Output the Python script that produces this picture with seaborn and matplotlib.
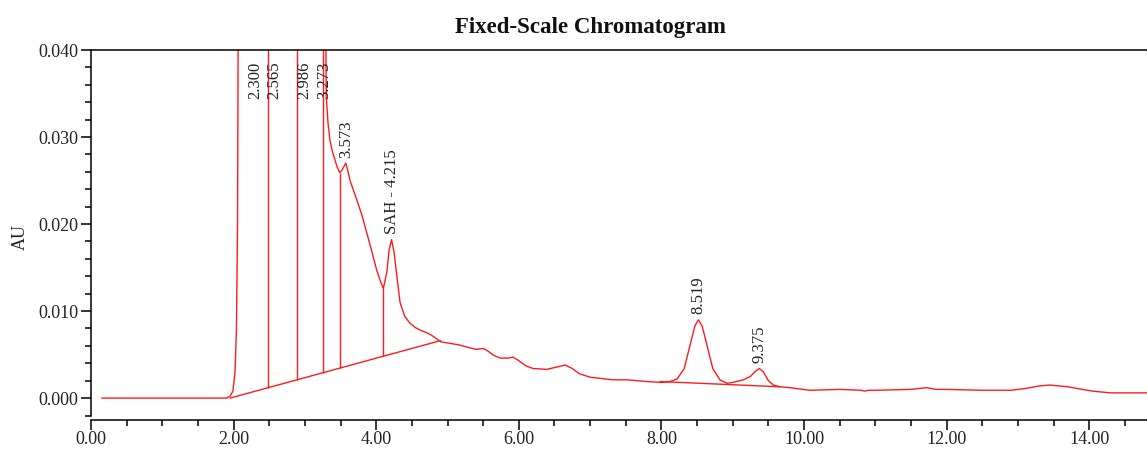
import numpy as np
import pandas as pd
import matplotlib
matplotlib.use("Agg")
import matplotlib.pyplot as plt
from matplotlib.ticker import MultipleLocator, FormatStrFormatter
import seaborn as sns

# ---------------- data ----------------
time_min = [0.15, 1.00, 1.90, 1.95, 1.99, 2.02, 2.04, 2.055, 2.065, 2.10, 2.30, 2.45,
            2.48, 2.565, 2.80, 2.89, 2.986, 3.15, 3.25, 3.273, 3.29, 3.30, 3.324, 3.35,
            3.38, 3.45, 3.49, 3.52, 3.573, 3.60, 3.633, 3.727, 3.80, 3.867, 3.94, 4.007,
            4.06, 4.10, 4.15, 4.18, 4.215, 4.25, 4.29, 4.334, 4.40, 4.474, 4.55, 4.62,
            4.712, 4.78, 4.85, 4.90, 4.95, 5.03, 5.17, 5.30, 5.40, 5.50, 5.55, 5.65,
            5.74, 5.85, 5.92, 6.00, 6.10, 6.20, 6.39, 6.55, 6.65, 6.75, 6.85, 7.00,
            7.32, 7.52, 7.80, 8.00, 8.12, 8.22, 8.32, 8.42, 8.47, 8.519, 8.57, 8.62,
            8.72, 8.82, 8.92, 9.00, 9.15, 9.25, 9.32, 9.375, 9.43, 9.50, 9.57,
            9.66, 9.80, 10.08, 10.50, 10.80, 10.85, 10.90, 11.00, 11.50, 11.72, 11.85,
            12.00, 12.50, 12.90, 13.10, 13.30, 13.45, 13.70, 13.90, 14.05, 14.30, 14.85]
absorbance_au = [0.0, 0.0, 0.0, 0.0002, 0.0008, 0.003, 0.008, 0.020, 0.045, 0.12, 0.30, 0.10,
                 0.09, 0.20, 0.08, 0.07, 0.15, 0.07, 0.06, 0.060, 0.045, 0.0346, 0.0316, 0.0297,
                 0.0285, 0.0266, 0.0259, 0.0262, 0.0270, 0.0262, 0.0250, 0.0228, 0.0210, 0.0190, 0.0168, 0.0147,
                 0.0134, 0.0126, 0.0145, 0.0170, 0.0182, 0.0168, 0.0140, 0.0110, 0.0094, 0.0086, 0.0081, 0.0078,
                 0.0075, 0.0072, 0.0068, 0.0065, 0.0064, 0.0063, 0.0061, 0.0058, 0.0056, 0.0057, 0.0055, 0.0049,
                 0.0046, 0.0046, 0.0047, 0.0043, 0.0037, 0.0034, 0.0033, 0.0036, 0.0038, 0.0034, 0.0028, 0.0024,
                 0.0021, 0.0021, 0.0019, 0.0018, 0.0019, 0.0022, 0.0034, 0.0067, 0.0083, 0.0090, 0.0083, 0.0067,
                 0.0034, 0.0021, 0.0017, 0.0018, 0.0021, 0.0025, 0.0031, 0.0034, 0.0030, 0.0020, 0.0015,
                 0.0013, 0.0012, 0.0009, 0.0010, 0.0009, 0.0008, 0.0009, 0.0009, 0.0010, 0.0012, 0.0010,
                 0.0010, 0.0009, 0.0009, 0.0011, 0.0014, 0.0015, 0.0013, 0.0010, 0.0008, 0.0006, 0.0006]

# integration baselines (start time, start AU, end time, end AU)
baseline_t0 = [1.95, 7.98]
baseline_y0 = [0.0, 0.0019]
baseline_t1 = [4.90, 9.66]
baseline_y1 = [0.0066, 0.0013]

# peak boundary drop lines
drop_times = [2.48, 2.89, 3.25, 3.49, 4.10]

# peak labels
peak_times = [2.300, 2.565, 2.986, 3.273, 3.573, 4.215, 8.519, 9.375]
peak_labels = ["2.300", "2.565", "2.986", "3.273", "3.573", "SAH - 4.215", "8.519", "9.375"]

x_ticks = [0, 2, 4, 6, 8, 10, 12, 14]
y_ticks = [0.000, 0.010, 0.020, 0.030, 0.040]

# ---------------- style ----------------
sns.set_theme(style="ticks")
plt.rcParams["font.family"] = ["Liberation Serif", "DejaVu Serif"]
plt.rcParams["axes.linewidth"] = 1.1

W, H = 1147, 450
fig = plt.figure(figsize=(W / 100, H / 100), dpi=100)
ax = fig.add_axes([91 / W, 1 - 415.5 / H, 1056 / W, 365.5 / H])

red = "#ff1a1a"
df = pd.DataFrame({"Time (min)": time_min, "AU": absorbance_au})
sns.lineplot(data=df, x="Time (min)", y="AU", ax=ax, color=red, linewidth=1.0,
             estimator=None, sort=False)

ymax = 0.040
ax.set_xlim(0, 14.81)
ax.set_ylim(-0.0020, ymax)

# baselines
for t0, y0, t1, y1 in zip(baseline_t0, baseline_y0, baseline_t1, baseline_y1):
    sns.lineplot(x=[t0, t1], y=[y0, y1], ax=ax, color=red, linewidth=1.0, estimator=None)

# drop lines from baseline up to the trace
def base_at(t):
    for t0, y0, t1, y1 in zip(baseline_t0, baseline_y0, baseline_t1, baseline_y1):
        if t0 <= t <= t1:
            return y0 + (y1 - y0) * (t - t0) / (t1 - t0)
    return 0.0

for t in drop_times:
    ax.vlines(t, base_at(t), np.interp(t, time_min, absorbance_au), color=red, linewidth=1.0)

# peak labels
for t, lab in zip(peak_times, peak_labels):
    h = np.interp(t, time_min, absorbance_au)
    if h >= ymax:
        ax.annotate(lab, xy=(t, ymax), xytext=(0, -8.5), textcoords="offset points",
                    rotation=90, ha="center", va="top", fontsize=12, color="#222222")
    else:
        ax.annotate(lab, xy=(t, h), xytext=(0, 4), textcoords="offset points",
                    rotation=90, ha="center", va="bottom", fontsize=12, color="#222222")

# axes formatting
ax.set_xlabel("")
ax.set_ylabel("")
ax.set_xticks(x_ticks)
ax.set_yticks(y_ticks)
ax.xaxis.set_major_formatter(FormatStrFormatter("%.2f"))
ax.yaxis.set_major_formatter(FormatStrFormatter("%.3f"))
ax.xaxis.set_minor_locator(MultipleLocator(0.5))
ax.yaxis.set_minor_locator(MultipleLocator(0.002))
ax.tick_params(axis="both", which="major", direction="out", length=7, width=1.1,
               labelsize=13, colors="black", labelcolor="#222222")
ax.tick_params(axis="both", which="minor", direction="out", length=4, width=1.1, colors="black")
ax.tick_params(axis="x", which="major", pad=1.5)
ax.tick_params(axis="y", which="major", pad=2)
ax.spines["right"].set_visible(False)
ax.spines["top"].set_visible(True)
ax.spines["bottom"].set_position(("outward", 3))
for s in ["left", "top", "bottom"]:
    ax.spines[s].set_color("black")

fig.text(590 / W, 1 - 27 / H, "Fixed-Scale Chromatogram", ha="center", va="center",
         fontsize=16.5, fontweight="bold", color="#111111")
fig.text(20 / W, 1 - 237 / H, "AU", rotation=90, ha="center", va="center",
         fontsize=13, color="#222222")

fig.savefig("out.png", dpi=100)
